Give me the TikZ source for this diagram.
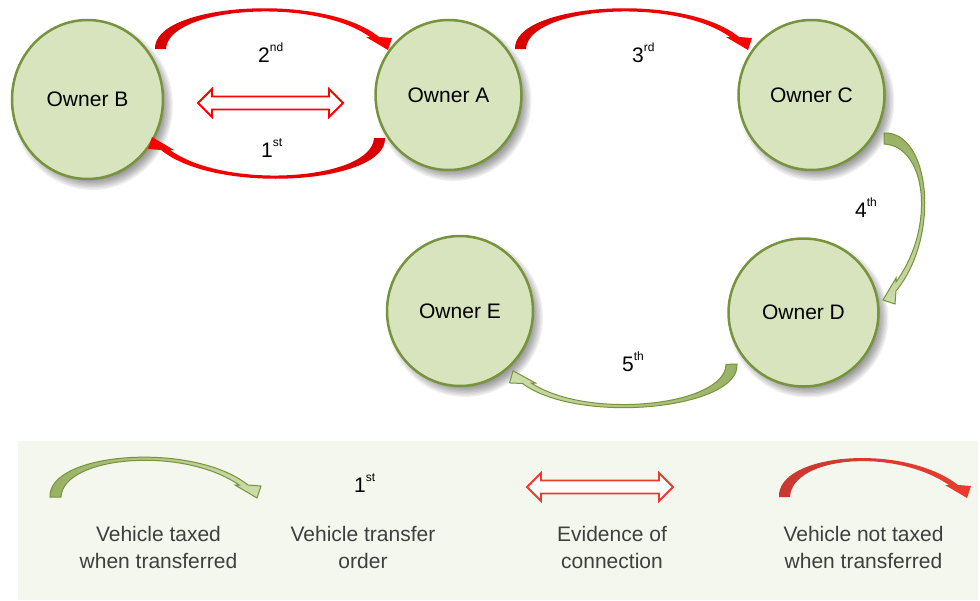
\documentclass[tikz,border=0pt]{standalone}
\usepackage{fontspec}
\setmainfont{Liberation Sans}
\usetikzlibrary{shapes.geometric}

\definecolor{ownerfill}{HTML}{D7E4BD}
\definecolor{ownerline}{HTML}{77933C}
\definecolor{taxred}{HTML}{FF0000}
\definecolor{taxreddark}{HTML}{D80000}
\definecolor{keyred}{HTML}{EE3A2E}
\definecolor{keyreddark}{HTML}{C83830}
\definecolor{greenlight}{HTML}{CCDDAA}
\definecolor{greendark}{HTML}{98B064}
\definecolor{keybg}{HTML}{F3F7ED}
\definecolor{keytext}{HTML}{3F3F3F}

% curved block arrow: tail at the origin, head tip at (#2,0), bulging upwards by #3
\newcommand\bendarrow[3]{%
  \path[#1] (0,0) .. controls (-2,{-1.07*#3}) and ({#2-64},{-1.33*#3}) .. ({#2-9},-12)
    -- ({#2+4},-11) -- (#2,1) -- ({#2-22},-12) -- ({#2-18},-12)
    .. controls ({#2-74},{-1.22*#3}) and (13,{-0.98*#3}) .. (11,0) -- cycle;}

% hollow double-headed arrow centred at (#1,#2), half length #3
\newcommand\twohead[4]{%
  \path[#4] ({#1-#3},#2) -- ({#1-#3+14},{#2-14}) -- ({#1-#3+14},{#2-6.5})
    -- ({#1+#3-14},{#2-6.5}) -- ({#1+#3-14},{#2-14}) -- ({#1+#3},#2)
    -- ({#1+#3-14},{#2+14}) -- ({#1+#3-14},{#2+6.5}) -- ({#1-#3+14},{#2+6.5})
    -- ({#1-#3+14},{#2+14}) -- cycle;}

% soft shadow below an owner disc
\newcommand\softshadow[4]{%
  \foreach \k in {0,...,7}{%
    \fill[black,opacity=0.06] ({#1+5},{#2+6}) ellipse
      [x radius={(#3+5-1.4*\k)*1pt}, y radius={(#4+5-1.4*\k)*1pt}];}}

\newcommand\ordinal[2]{#1\raisebox{11pt}{\fontsize{12}{12}\selectfont #2}}

\tikzset{
  owner/.style={ellipse, draw=ownerline, line width=2.5pt, fill=ownerfill,
    inner sep=0pt, text=black},
  redbend/.style={left color=taxreddark, right color=taxred, draw=none},
  keyredbend/.style={left color=keyreddark, right color=keyred, draw=none},
  greenbend/.style={draw=ownerline, line width=1pt},
  linkarrow/.style={draw=taxred, line width=1.8pt, fill=white},
  keylink/.style={draw=keyred, line width=1.8pt, fill=white},
  order/.style={anchor=base west, inner sep=0pt, text=black},
  keylabel/.style={anchor=north, align=center, inner sep=0pt, text=keytext},
}

\begin{document}
\begin{tikzpicture}[x=1pt, y=-1pt, font=\fontsize{21}{26.5}\selectfont]
\useasboundingbox (0,0) rectangle (980,600);

% key panel
\fill[keybg] (18,441) rectangle (978,600);

% shadows and owners
\softshadow{87.5}{99.5}{75.5}{79.5}
\softshadow{448.5}{95}{73}{75}
\softshadow{811.5}{95}{73}{75}
\softshadow{803.5}{312.5}{75}{74}
\softshadow{460}{311}{73}{75}

\node[owner, minimum width=151pt, minimum height=159pt] (B) at (87.5,99.5) {Owner B};
\node[owner, minimum width=146pt, minimum height=150pt] (A) at (448.5,95) {Owner A};
\node[owner, minimum width=146pt, minimum height=150pt] (C) at (811.5,95) {Owner C};
\node[owner, minimum width=150pt, minimum height=148pt] (D) at (803.5,312.5) {Owner D};
\node[owner, minimum width=146pt, minimum height=150pt] (E) at (460,311) {Owner E};

% transfers between owners
\begin{scope}[shift={(155,49)}]
  \bendarrow{redbend}{233}{43}
\end{scope}
\begin{scope}[shift={(385,138)}, rotate=180]
  \bendarrow{left color=taxred, right color=taxreddark}{233}{43}
\end{scope}
\begin{scope}[shift={(515,49)}]
  \bendarrow{redbend}{233}{43}
\end{scope}
\begin{scope}[shift={(884,133)}, rotate=-90]
  \bendarrow{greenbend, top color=greendark, bottom color=greenlight}{167}{43}
\end{scope}
\begin{scope}[shift={(737,364)}, rotate=182]
  \bendarrow{greenbend, left color=greenlight, right color=greendark}{224}{42}
\end{scope}

% connection between A and B
\twohead{270.5}{103}{72.5}{linkarrow}

% transfer order labels
\node[order] (n2) at (258,62) {\ordinal{2}{nd}};
\node[order] (n1) at (261,157) {\ordinal{1}{st}};
\node[order] (n3) at (632,62) {\ordinal{3}{rd}};
\node[order] (n4) at (855,217) {\ordinal{4}{th}};
\node[order] (n5) at (622,371) {\ordinal{5}{th}};

% key
\begin{scope}[shift={(50,497)}]
  \bendarrow{greenbend, left color=greendark, right color=greenlight}{207}{42}
\end{scope}
\node[order] (k1) at (354,492) {\ordinal{1}{st}};
\twohead{600}{487}{73}{keylink}
\begin{scope}[shift={(779,497)}]
  \bendarrow{keyredbend}{188}{41}
\end{scope}

\node[keylabel] (kt) at (158.5,526.5) {Vehicle taxed\\when transferred};
\node[keylabel] (ko) at (363,526.5) {Vehicle transfer\\order};
\node[keylabel] (ke) at (612,526.5) {Evidence of\\connection};
\node[keylabel] (kn) at (863.5,526.5) {Vehicle not taxed\\when transferred};
\end{tikzpicture}
\end{document}
